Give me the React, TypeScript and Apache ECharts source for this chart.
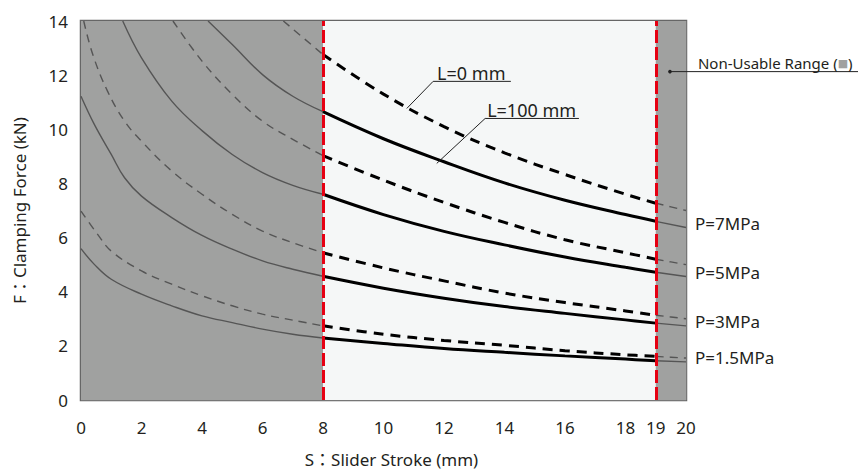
import React, { useEffect, useRef } from "react";
import * as echarts from "echarts";

// ---- data ----
const xLabelValues = [0, 2, 4, 6, 8, 10, 12, 14, 16, 18, 19, 20];
const usableFrom = 8;
const usableTo = 19;
const strokeMax = 20;
const forceMax = 14;
const pressureLabels = ["P=7MPa", "P=5MPa", "P=3MPa", "P=1.5MPa"];

// L = 0 mm (dashed)
const p7L0 = [[6.69, 14], [8, 12.76], [10, 11.3], [12, 10.1], [14, 9.13], [16, 8.33], [18, 7.6], [19, 7.27], [20, 7.0]];
const p5L0 = [[3.04, 14], [4, 12.52], [5, 11.29], [6, 10.3], [7, 9.63], [8, 9.03], [10, 8.12], [12, 7.3], [14, 6.56], [16, 5.92], [18, 5.44], [19, 5.2], [20, 5.0]];
const p3L0 = [[0.09, 14], [0.39, 12.76], [0.88, 11.4], [1.44, 10.3], [2, 9.56], [3, 8.46], [4, 7.6], [5, 6.86], [6, 6.24], [7, 5.81], [8, 5.44], [10, 4.88], [12, 4.4], [14, 3.95], [16, 3.6], [18, 3.29], [19, 3.13], [20, 3.0]];
const p15L0 = [[0, 6.98], [0.55, 6.12], [1, 5.5], [2, 4.77], [3, 4.28], [4, 3.85], [5, 3.48], [6, 3.17], [7, 2.95], [8, 2.74], [10, 2.43], [12, 2.2], [14, 2.02], [16, 1.82], [18, 1.67], [19, 1.61], [20, 1.55]];

// L = 100 mm (solid)
const p7L100 = [[4.2, 14], [5, 13.13], [6, 12.02], [7, 11.22], [8, 10.65], [10, 9.65], [12, 8.8], [14, 8.02], [16, 7.38], [18, 6.85], [19, 6.6], [20, 6.37]];
const p5L100 = [[1.38, 14], [2, 12.64], [3, 11.04], [4, 9.95], [5, 9.07], [6, 8.4], [7, 7.93], [8, 7.6], [10, 6.85], [12, 6.23], [14, 5.73], [16, 5.28], [18, 4.9], [19, 4.72], [20, 4.56]];
const p3L100 = [[0, 11.22], [0.44, 10.18], [1, 9.07], [1.44, 8.21], [2, 7.53], [3, 6.74], [4, 6.08], [5, 5.57], [6, 5.14], [7, 4.83], [8, 4.57], [10, 4.13], [12, 3.76], [14, 3.45], [16, 3.2], [18, 2.96], [19, 2.84], [20, 2.74]];
const p15L100 = [[0, 5.59], [0.44, 5.01], [1, 4.46], [2, 3.91], [3, 3.48], [4, 3.11], [5, 2.86], [6, 2.62], [7, 2.43], [8, 2.29], [10, 2.09], [12, 1.9], [14, 1.76], [16, 1.63], [18, 1.51], [19, 1.45], [20, 1.41]];

const curvesL0 = [p7L0, p5L0, p3L0, p15L0];
const curvesL100 = [p7L100, p5L100, p3L100, p15L100];

// annotation anchor points (data coordinates)
const l0Leader = [[10.77, 10.77], [11.64, 11.77], [14.21, 11.77]];
const l100Leader = [[11.76, 8.74], [13.36, 10.4], [16.46, 10.4]];
const nonUsableDot = [19.47, 12.13];

const FONT = '"Noto Sans", "Noto Sans CJK JP", sans-serif';
const TEXT = "#231f20";
const DARK_BG = "#a0a1a0";
const LIGHT_BG = "#f5f7f7";

const between = (d: number[][], a: number, b: number) => d.filter((p) => p[0] >= a && p[0] <= b);

function buildOption() {
  const series: any[] = [];
  // background zones
  series.push({
    type: "line",
    data: [[0, 0]],
    showSymbol: false,
    lineStyle: { width: 0, opacity: 0 },
    silent: true,
    z: -1,
    markArea: {
      silent: true,
      data: [
        [{ xAxis: 0, itemStyle: { color: DARK_BG } }, { xAxis: usableFrom }],
        [{ xAxis: usableFrom, itemStyle: { color: LIGHT_BG } }, { xAxis: usableTo }],
        [{ xAxis: usableTo, itemStyle: { color: DARK_BG } }, { xAxis: strokeMax }],
      ],
    },
  });
  const common = {
    type: "line",
    smooth: 0.4,
    showSymbol: false,
    silent: true,
    clip: true,
  };
  const thinDash = { color: "#555", width: 1.4, type: [8, 6] };
  const thinSolid = { color: "#555", width: 1.4, type: "solid" };
  curvesL0.forEach((d) => {
    series.push({ ...common, data: between(d, 0, usableFrom), z: 3, lineStyle: thinDash });
    series.push({ ...common, data: between(d, usableTo, strokeMax), z: 3, lineStyle: thinDash });
    series.push({ ...common, data: between(d, usableFrom, usableTo), z: 4, lineStyle: { color: "#000", width: 3, type: [10, 7] } });
  });
  curvesL100.forEach((d, i) => {
    series.push({ ...common, data: between(d, 0, usableFrom), z: 3, lineStyle: thinSolid });
    series.push({
      ...common,
      data: between(d, usableTo, strokeMax),
      z: 3,
      lineStyle: thinSolid,
      endLabel: {
        show: true,
        formatter: pressureLabels[i],
        color: TEXT,
        fontFamily: FONT,
        fontSize: 17,
        distance: 9,
        offset: [0, -4],
      },
    });
    series.push({ ...common, data: between(d, usableFrom, usableTo), z: 4, lineStyle: { color: "#000", width: 3, type: "solid" } });
  });
  // red limit lines
  series.push({
    type: "line",
    data: [],
    z: 10,
    silent: true,
    markLine: {
      silent: true,
      symbol: ["none", "none"],
      label: { show: false },
      lineStyle: { color: "#e60012", width: 3, type: [13, 4] },
      data: [{ xAxis: usableFrom }, { xAxis: usableTo }],
    },
  });

  return {
    animation: false,
    backgroundColor: "#ffffff",
    grid: {
      left: 81,
      right: 172,
      top: 21,
      bottom: 72,
      show: true,
      backgroundColor: "transparent",
      borderColor: "#666",
      borderWidth: 2.5,
      containLabel: false,
      outerBoundsMode: "none",
    },
    xAxis: {
      type: "value",
      min: 0,
      max: strokeMax,
      interval: 2,
      name: "S：Slider Stroke (mm)",
      nameLocation: "middle",
      nameGap: 51,
      nameTextStyle: { color: TEXT, fontFamily: FONT, fontSize: 17, padding: [0, 0, 0, 16] },
      axisLine: { show: false },
      axisTick: { show: false },
      axisLabel: {
        customValues: xLabelValues,
        color: TEXT,
        fontFamily: FONT,
        fontSize: 17,
        margin: 19,
        showMinLabel: true,
        showMaxLabel: true,
        hideOverlap: false,
      },
      splitLine: { show: true, lineStyle: { color: "rgba(128,128,128,0.62)", width: 1 } },
    },
    yAxis: {
      type: "value",
      min: 0,
      max: forceMax,
      interval: 2,
      name: "F：Clamping Force (kN)",
      nameLocation: "middle",
      nameGap: 53,
      nameRotate: 90,
      nameTextStyle: { color: TEXT, fontFamily: FONT, fontSize: 17 },
      axisLine: { show: false },
      axisTick: { show: false },
      axisLabel: { color: TEXT, fontFamily: FONT, fontSize: 17, margin: 13 },
      splitLine: { show: true, lineStyle: { color: "rgba(128,128,128,0.62)", width: 1 } },
    },
    series,
  };
}

export default function App() {
  const ref = useRef<HTMLDivElement>(null);
  useEffect(() => {
    if (!ref.current) return;
    const chart = echarts.init(ref.current, null, { renderer: "svg" });
    chart.setOption(buildOption() as any);
    const px = (p: number[]) => chart.convertToPixel({ gridIndex: 0 }, p) as number[];
    const W = chart.getWidth();
    const l0 = l0Leader.map(px);
    const l100 = l100Leader.map(px);
    const dot = px(nonUsableDot);
    chart.setOption({
      graphic: [
        { type: "polyline", silent: true, z: 20, shape: { points: l0 }, style: { stroke: "#222", lineWidth: 1, fill: null } },
        {
          type: "text", silent: true, z: 20, x: l0[1][0] + 4, y: l0[1][1] + 1,
          style: { text: "L=0 mm", fill: TEXT, fontFamily: FONT, fontSize: 18, align: "left", verticalAlign: "bottom" },
        },
        { type: "polyline", silent: true, z: 20, shape: { points: l100 }, style: { stroke: "#222", lineWidth: 1, fill: null } },
        {
          type: "text", silent: true, z: 20, x: l100[1][0] + 2, y: l100[1][1] + 1,
          style: { text: "L=100 mm", fill: TEXT, fontFamily: FONT, fontSize: 18, align: "left", verticalAlign: "bottom" },
        },
        { type: "circle", silent: true, z: 20, shape: { cx: dot[0], cy: dot[1], r: 1.8 }, style: { fill: "#222" } },
        { type: "line", silent: true, z: 20, shape: { x1: dot[0], y1: dot[1], x2: W, y2: dot[1] }, style: { stroke: "#222", lineWidth: 1 } },
        {
          type: "text", silent: true, z: 20, x: dot[0] + 28, y: dot[1] - 1,
          style: {
            text: "Non-Usable Range ({b|■})",
            fill: TEXT,
            fontFamily: FONT,
            fontSize: 15,
            align: "left",
            verticalAlign: "bottom",
            rich: { b: { fill: DARK_BG, fontFamily: '"DejaVu Sans", sans-serif', fontSize: 11 } },
          },
        },
      ],
    });
    return () => chart.dispose();
  }, []);
  return <div ref={ref} style={{ position: "fixed", left: 0, top: 0, width: 858, height: 472 }} />;
}
